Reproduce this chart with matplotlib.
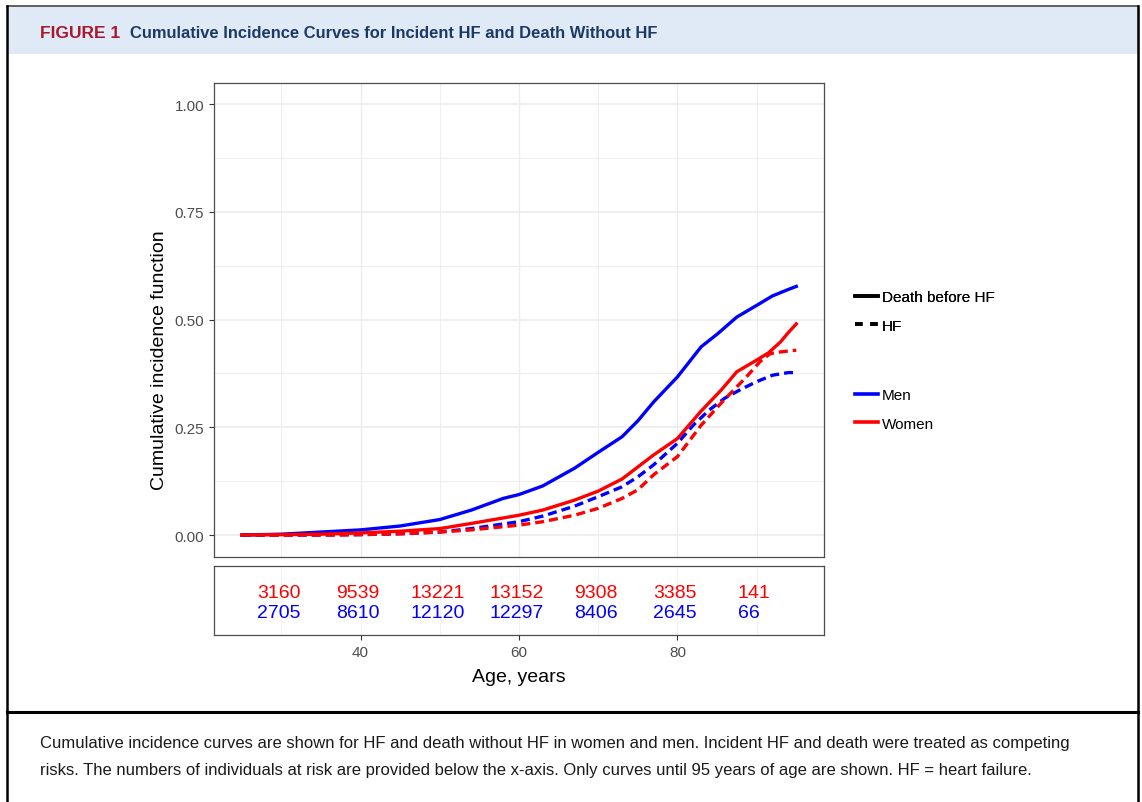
import matplotlib.pyplot as plt
from matplotlib.lines import Line2D
from matplotlib.patches import Rectangle

# cumulative incidence read at selected ages
age_men_death = [25, 30, 35, 40, 45, 50, 54, 58, 60, 63, 67, 70, 73, 75, 77, 80, 83, 85, 87.5,
                 90, 92, 94, 95]
men_death = [0.0, 0.002, 0.007, 0.012, 0.021, 0.036, 0.058, 0.085, 0.094, 0.114, 0.155, 0.192,
             0.228, 0.265, 0.309, 0.367, 0.437, 0.466, 0.506, 0.533, 0.555, 0.570, 0.577]

age_women_death = [25, 30, 35, 40, 45, 50, 54, 60, 63, 67, 70, 73, 77, 80, 83, 85.5, 87.5, 90,
                   91.5, 93, 94, 95]
women_death = [0.0, 0.001, 0.002, 0.005, 0.009, 0.015, 0.027, 0.046, 0.058, 0.081, 0.102, 0.130,
               0.186, 0.224, 0.288, 0.336, 0.379, 0.406, 0.423, 0.448, 0.470, 0.490]

age_men_hf = [25, 35, 40, 45, 50, 54, 60, 63, 67, 70, 73, 75, 77, 80, 82, 84, 86, 88, 90, 92,
              94, 95]
men_hf = [0.0, 0.0, 0.001, 0.003, 0.007, 0.015, 0.031, 0.044, 0.067, 0.089, 0.112, 0.135, 0.163,
          0.213, 0.255, 0.290, 0.318, 0.338, 0.356, 0.371, 0.377, 0.377]

age_women_hf = [25, 35, 40, 45, 50, 54, 60, 63, 67, 70, 73, 75, 77, 80, 83, 85.5, 87.5, 88.7,
                90.4, 91.7, 93, 95]
women_hf = [0.0, 0.0, 0.001, 0.003, 0.007, 0.012, 0.023, 0.031, 0.046, 0.062, 0.085, 0.105,
            0.140, 0.182, 0.255, 0.306, 0.344, 0.367, 0.402, 0.421, 0.425, 0.429]

# numbers at risk
risk_ages = [30, 40, 50, 60, 70, 80, 90]
risk_women = [3160, 9539, 13221, 13152, 9308, 3385, 141]
risk_men = [2705, 8610, 12120, 12297, 8406, 2645, 66]

BLUE = '#0000ff'
RED = '#ff0000'
GRID = '#ebebeb'
TICK = '#4d4d4d'

plt.rcParams['font.family'] = ['Liberation Sans', 'DejaVu Sans']

W, H = 1142, 803
fig = plt.figure(figsize=(W / 100, H / 100), dpi=100)

# page frame and header band
frame = fig.add_axes([0, 0, 1, 1])
frame.set_xlim(0, W)
frame.set_ylim(H, 0)
frame.axis('off')
frame.add_patch(Rectangle((7, 8), 1131, 47, facecolor='#dfeaf6', edgecolor='none'))
frame.plot([7, 1138], [7, 7], color='#444444', lw=1.2)
frame.plot([7, 7], [7, H], color='black', lw=1.8)
frame.plot([1138, 1138], [7, H], color='black', lw=1.8)
frame.plot([7, 1138], [713, 713], color='black', lw=2.2)
frame.text(40, 33, 'FIGURE 1', color='#a6192e', fontsize=12.5, fontweight='bold', va='center')
frame.text(130, 33, 'Cumulative Incidence Curves for Incident HF and Death Without HF',
           color='#1c3966', fontsize=11.9, fontweight='bold', va='center')
caption = ['Cumulative incidence curves are shown for HF and death without HF in women and men. '
           'Incident HF and death were treated as competing',
           'risks. The numbers of individuals at risk are provided below the x-axis. '
           'Only curves until 95 years of age are shown. HF = heart failure.']
for i, line in enumerate(caption):
    frame.text(40, 744 + 27 * i, line, fontsize=12.0, va='center', color='#1a1a1a')

# main panel
ax = fig.add_axes([214 / W, 1 - 557.6 / H, 610 / W, 474 / H])
ax.set_xlim(21.5, 98.5)
ax.set_ylim(-0.05, 1.05)
for x in range(30, 100, 10):
    ax.axvline(x, color=GRID, lw=0.9 if x % 20 == 0 else 0.6, zorder=0)
for y in [0, 0.25, 0.5, 0.75, 1.0]:
    ax.axhline(y, color=GRID, lw=1.1, zorder=0)
for y in [0.125, 0.375, 0.625, 0.875]:
    ax.axhline(y, color=GRID, lw=0.6, zorder=0)

dash = (2.7, 1.5)
ax.plot(age_men_hf, men_hf, color=BLUE, lw=2.4, dashes=dash, zorder=2)
ax.plot(age_women_hf, women_hf, color=RED, lw=2.4, dashes=dash, zorder=2)
ax.plot(age_men_death, men_death, color=BLUE, lw=2.4, zorder=3)
ax.plot(age_women_death, women_death, color=RED, lw=2.4, zorder=3)

ax.set_yticks([0, 0.25, 0.5, 0.75, 1.0])
ax.set_yticklabels(['0.00', '0.25', '0.50', '0.75', '1.00'])
ax.set_xticks([])
ax.tick_params(axis='y', colors='#333333', labelcolor=TICK, labelsize=11, length=3.5, width=0.8)
for s in ax.spines.values():
    s.set_color('#4d4d4d')
    s.set_linewidth(0.9)
fig.text(160 / W, 1 - 360 / H, 'Cumulative incidence function', fontsize=14, rotation=90,
         ha='center', va='center')

# legends: line type and sex
leg_type = fig.legend([Line2D([], [], color='black', lw=2.6),
                       Line2D([], [], color='black', lw=2.6, dashes=(2.1, 2.1))],
                      ['Death before HF', 'HF'], loc='upper left',
                      bbox_to_anchor=(855 / W, 1 - 291 / H), frameon=False, fontsize=11,
                      handlelength=1.5, handletextpad=0.28, labelspacing=0.95,
                      borderaxespad=0, borderpad=0)
fig.add_artist(leg_type)
fig.legend([Line2D([], [], color=BLUE, lw=2.6), Line2D([], [], color=RED, lw=2.6)],
           ['Men', 'Women'], loc='upper left', bbox_to_anchor=(855 / W, 1 - 389 / H),
           frameon=False, fontsize=11, handlelength=1.5, handletextpad=0.28,
           labelspacing=0.95, borderaxespad=0, borderpad=0)

# risk table
tab = fig.add_axes([214 / W, 1 - 636 / H, 610 / W, 69 / H])
tab.set_xlim(21.5, 98.5)
tab.set_ylim(0, 1)
for x in range(30, 100, 10):
    tab.axvline(x, color='#f2f2f2', lw=0.8, zorder=0)
for a, nw, nm in zip(risk_ages, risk_women, risk_men):
    width = max(len(str(nw)), len(str(nm)))
    tab.text(a - 0.3, 0.62, str(nw).ljust(width, '\u2007'), color=RED, fontsize=14,
             ha='center', va='center')
    tab.text(a - 0.3, 0.33, str(nm).ljust(width, '\u2007'), color=BLUE, fontsize=14,
             ha='center', va='center')
tab.set_yticks([])
tab.set_xticks([40, 60, 80])
tab.tick_params(axis='x', colors='#333333', labelcolor=TICK, labelsize=11, length=3.5, width=0.8)
tab.set_xlabel('Age, years', fontsize=14, labelpad=7)
for s in tab.spines.values():
    s.set_color('#4d4d4d')
    s.set_linewidth(0.9)

fig.savefig('out.png', dpi=100)
